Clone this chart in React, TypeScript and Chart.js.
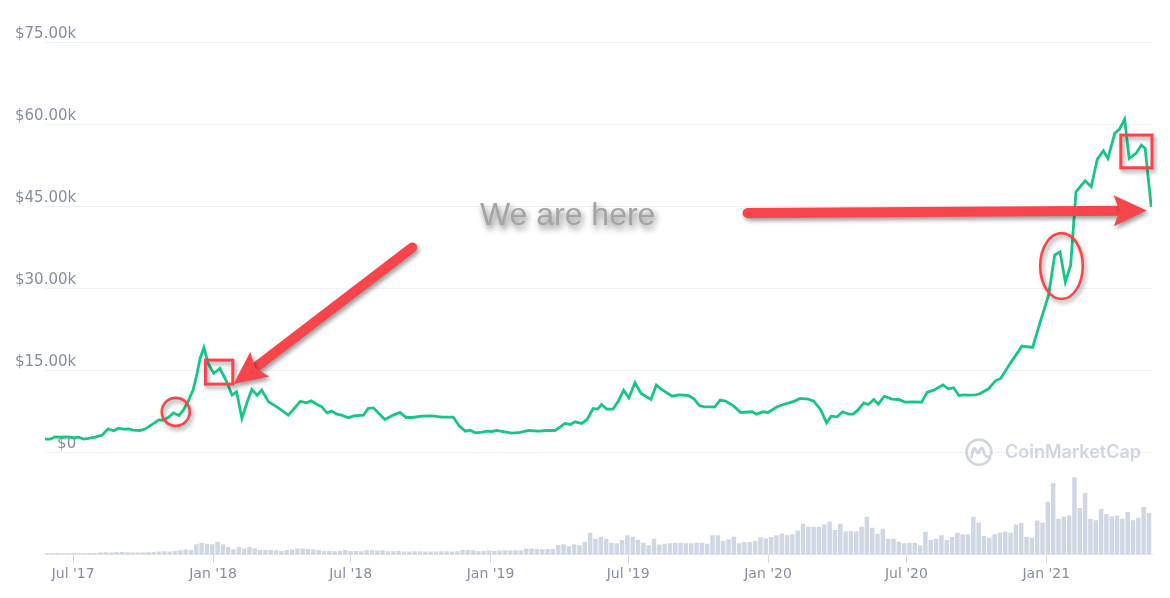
import React, { useEffect, useRef } from "react";
import { Chart, registerables } from "chart.js";

Chart.register(...registerables);

// ---------- data ----------
const priceDates = [
  "2017-05-25","2017-06-01","2017-06-07","2017-06-14","2017-06-25","2017-07-01","2017-07-08","2017-07-15","2017-07-21","2017-07-30",
  "2017-08-08","2017-08-16","2017-08-23","2017-08-30","2017-09-05","2017-09-12","2017-09-18","2017-09-27","2017-10-04","2017-10-10",
  "2017-10-17","2017-10-21","2017-10-28","2017-11-03","2017-11-10","2017-11-17","2017-11-23","2017-11-30","2017-12-06","2017-12-11",
  "2017-12-15","2017-12-20","2017-12-26","2018-01-02","2018-01-10","2018-01-19","2018-01-26","2018-02-01","2018-02-08","2018-02-15",
  "2018-02-21","2018-02-28","2018-03-06","2018-03-15","2018-03-26","2018-04-10","2018-04-26","2018-05-04","2018-05-10","2018-05-18",
  "2018-05-24","2018-05-31","2018-06-06","2018-06-13","2018-06-19","2018-06-28","2018-07-05","2018-07-18","2018-07-24","2018-07-31",
  "2018-08-15","2018-08-26","2018-09-04","2018-09-12","2018-09-20","2018-10-03","2018-10-16","2018-10-29","2018-11-13","2018-11-21",
  "2018-11-29","2018-12-05","2018-12-12","2018-12-21","2018-12-27","2019-01-03","2019-01-09","2019-01-16","2019-01-29","2019-02-09",
  "2019-02-20","2019-03-05","2019-03-16","2019-03-27","2019-04-09","2019-04-16","2019-04-22","2019-05-01","2019-05-08","2019-05-16",
  "2019-05-22","2019-05-27","2019-06-03","2019-06-11","2019-06-18","2019-06-25","2019-07-02","2019-07-10","2019-07-18","2019-07-31",
  "2019-08-07","2019-08-14","2019-08-28","2019-09-05","2019-09-18","2019-09-25","2019-10-03","2019-10-10","2019-10-23","2019-10-30",
  "2019-11-06","2019-11-17","2019-11-26","2019-12-11","2019-12-17","2019-12-25","2020-01-01","2020-01-13","2020-01-21","2020-02-04",
  "2020-02-12","2020-02-23","2020-03-01","2020-03-10","2020-03-18","2020-03-24","2020-04-01","2020-04-08","2020-04-16","2020-04-22",
  "2020-04-28","2020-05-06","2020-05-12","2020-05-19","2020-05-25","2020-06-02","2020-06-12","2020-06-21","2020-06-29","2020-07-10",
  "2020-07-21","2020-07-28","2020-08-06","2020-08-18","2020-08-25","2020-09-01","2020-09-08","2020-09-14","2020-09-21","2020-09-30",
  "2020-10-06","2020-10-17","2020-10-26","2020-11-02","2020-11-15","2020-11-30","2020-12-14","2020-12-24","2021-01-04","2021-01-12",
  "2021-01-19","2021-01-26","2021-02-02","2021-02-09","2021-02-21","2021-03-01","2021-03-09","2021-03-17","2021-03-23","2021-04-01",
  "2021-04-07","2021-04-14","2021-04-20","2021-04-29","2021-05-06","2021-05-11","2021-05-19",
];

const prices = [
  2380,2380,2800,2750,2800,2620,2750,2380,2500,2740,
  3110,4270,3900,4390,4210,4270,4020,3960,4270,4810,
  5430,5850,5850,6340,7190,6710,7680,9510,11470,14390,
  17130,19150,16100,14390,15300,12860,10420,11030,6160,9200,
  11470,10420,11340,9200,8290,6770,9300,9020,9380,8720,
  8290,7190,7500,6950,6770,6280,6640,6770,7990,8100,
  5980,6770,7260,6340,6340,6580,6640,6400,6400,4760,
  3840,4020,3530,3660,3840,3780,3960,3780,3475,3600,
  3960,3840,3960,3960,5250,5070,5550,5250,5980,7990,
  7870,8720,7870,7870,9300,11300,9930,12680,10730,9630,
  12250,11470,10240,10480,10360,9820,8470,8290,8290,9510,
  9330,8410,7260,7380,6950,7380,7260,8290,8720,9270,
  9820,9700,9330,7810,5360,6580,6460,7380,6950,6950,
  7680,9020,8720,9630,8780,10240,9700,9630,9150,9200,
  9150,10910,11340,12310,11580,11770,10360,10480,10420,10480,
  10730,11580,13040,13480,16330,19390,19150,23830,28720,36030,
  36640,31150,34200,47610,49620,48520,53530,55110,53710,58290,
  59020,60850,53710,54630,56150,55550,44870,
];

// weekly volume bars (billions USD), first week starting volumeStart
const volumeStart = "2017-05-28";
const volumes = [
  0.9,0.9,1.2,0.9,0.9,1.2,0.9,0.9,1.2,1.2,
  1.5,1.8,1.5,2.1,2.1,1.8,1.5,1.5,1.5,1.8,
  2.1,2.4,2.7,2.4,3.0,3.6,4.2,3.9,
  9.0,10.5,9.6,9.0,11.4,9.0,6.6,4.5,6.6,5.1,6.6,5.4,
  3.9,3.9,3.9,3.6,3.0,3.9,4.2,5.1,5.1,4.8,
  4.2,3.9,3.0,3.0,2.7,3.0,3.9,3.0,3.0,2.7,
  3.6,3.6,3.3,3.6,2.7,2.7,3.0,2.4,2.4,2.7,
  2.7,2.4,2.4,2.4,2.7,2.7,2.4,2.7,3.9,3.9,
  3.6,3.0,3.0,3.3,3.0,3.3,3.6,3.3,3.6,3.6,
  5.1,5.1,4.8,4.5,4.8,4.8,8.4,9.0,7.2,9.0,
  8.1,11.1,19.5,14.1,15.9,14.1,10.5,9.9,12.9,17.1,
  15.9,12.9,10.5,8.1,14.1,8.7,9.6,9.9,10.5,10.5,
  9.9,9.9,10.5,10.5,9.6,17.1,17.1,12.0,13.5,15.9,
  9.9,11.1,11.1,12.0,15.3,14.4,15.6,17.1,18.9,17.1,
  18.0,21.6,27.6,24.9,24.9,24.9,27.0,29.4,21.9,27.6,
  20.7,21.0,20.7,24.9,33.9,24.0,18.6,23.1,14.1,14.1,
  11.4,9.9,10.5,10.5,8.1,20.4,12.9,14.1,17.1,12.9,
  15.6,19.5,18.0,18.0,33.9,28.5,16.5,15.0,18.0,19.5,
  20.4,19.5,27.0,28.5,15.9,15.0,30.6,28.5,47.7,64.5,
  32.1,33.9,35.1,69.9,42.0,55.5,32.1,30.9,41.1,36.6,
  34.5,35.1,32.1,38.4,30.9,33.0,42.9,37.5,
];

const xRange = ["2017-05-25", "2021-05-20"];
const xTickDates = ["2017-07-01","2018-01-01","2018-07-01","2019-01-01","2019-07-01","2020-01-01","2020-07-01","2021-01-01"];
const xTickLabels = ["Jul '17","Jan '18","Jul '18","Jan '19","Jul '19","Jan '20","Jul '20","Jan '21"];
const priceTicks = [0, 15000, 30000, 45000, 60000, 75000];

// annotations (data coordinates)
const circleNotes = [{ date: "2017-11-13", price: 7370, radius: 14 }];
const rectNotes = [
  { from: "2017-12-22", to: "2018-01-27", hi: 16830, lo: 12440 },
  { from: "2021-04-09", to: "2021-05-20", hi: 57980, lo: 52000 },
];
const ellipseNotes = [{ from: "2020-12-24", to: "2021-02-18", hi: 40050, lo: 28000 }];
const arrowNotes = [
  { fromDate: "2018-09-20", fromPrice: 37440, toDate: "2018-01-28", toPrice: 12440 },
  { fromDate: "2019-12-05", fromPrice: 43750, toDate: "2021-05-13", toPrice: 44170 },
];
const textNote = { text: "We are here", date: "2018-12-18", price: 41520 };

// ---------- helpers ----------
const dayNum = (s: string) => {
  const [y, m, d] = s.split("-").map(Number);
  return Date.UTC(y, m - 1, d) / 86400000;
};

const RED = "#f8454b";
const AXIS_TEXT = "#868da3";

const annotatePlugin = {
  id: "annotate",
  afterDraw(chart: any) {
    const { ctx, chartArea } = chart;
    const xs = chart.scales.x;
    const ys = chart.scales.y;
    const px = (d: string) => xs.getPixelForValue(dayNum(d));
    const py = (v: number) => ys.getPixelForValue(v);

    // watermark
    ctx.save();
    const lcx = chartArea.right - 173;
    const lcy = py(0);
    ctx.strokeStyle = "#cfd5e1";
    ctx.lineWidth = 2.6;
    ctx.lineCap = "round";
    ctx.lineJoin = "round";
    ctx.beginPath();
    ctx.arc(lcx, lcy, 12.5, 0.15 * Math.PI, 2.05 * Math.PI);
    ctx.stroke();
    ctx.beginPath();
    ctx.moveTo(lcx - 7.5, lcy + 5);
    ctx.quadraticCurveTo(lcx - 5.5, lcy - 8, lcx - 3, lcy - 2);
    ctx.quadraticCurveTo(lcx - 1, lcy + 4, lcx + 1, lcy - 2);
    ctx.quadraticCurveTo(lcx + 3.5, lcy - 8, lcx + 5, lcy + 1);
    ctx.quadraticCurveTo(lcx + 6.5, lcy + 6, lcx + 11, lcy + 4);
    ctx.stroke();
    ctx.fillStyle = "#cfd5e1";
    ctx.font = '600 18px Inter, "Noto Sans", sans-serif';
    ctx.textBaseline = "middle";
    ctx.textAlign = "left";
    ctx.fillText("CoinMarketCap", chartArea.right - 147, lcy);
    ctx.restore();

    const shadow = () => {
      ctx.shadowColor = "rgba(0,0,0,0.38)";
      ctx.shadowBlur = 4;
      ctx.shadowOffsetX = 2;
      ctx.shadowOffsetY = 3;
    };

    // circles
    circleNotes.forEach((c) => {
      ctx.save();
      shadow();
      ctx.strokeStyle = RED;
      ctx.lineWidth = 2.6;
      ctx.beginPath();
      ctx.arc(px(c.date), py(c.price), c.radius, 0, Math.PI * 2);
      ctx.stroke();
      ctx.restore();
    });

    // ellipses
    ellipseNotes.forEach((e) => {
      const x0 = px(e.from), x1 = px(e.to), y0 = py(e.hi), y1 = py(e.lo);
      ctx.save();
      shadow();
      ctx.strokeStyle = RED;
      ctx.lineWidth = 2.6;
      ctx.beginPath();
      ctx.ellipse((x0 + x1) / 2, (y0 + y1) / 2, (x1 - x0) / 2, (y1 - y0) / 2, 0, 0, Math.PI * 2);
      ctx.stroke();
      ctx.restore();
    });

    // rectangles
    rectNotes.forEach((r) => {
      const x0 = px(r.from), x1 = px(r.to), y0 = py(r.hi), y1 = py(r.lo);
      ctx.save();
      shadow();
      ctx.strokeStyle = RED;
      ctx.lineWidth = 3;
      ctx.strokeRect(x0, y0, x1 - x0, y1 - y0);
      ctx.restore();
    });

    // arrows
    arrowNotes.forEach((a) => {
      const x0 = px(a.fromDate), y0 = py(a.fromPrice);
      const x1 = px(a.toDate), y1 = py(a.toPrice);
      const dx = x1 - x0, dy = y1 - y0;
      const len = Math.hypot(dx, dy);
      const ux = dx / len, uy = dy / len;
      const headLen = 31, headHalf = 15.5;
      const bx = x1 - ux * headLen, by = y1 - uy * headLen;
      ctx.save();
      shadow();
      ctx.strokeStyle = RED;
      ctx.fillStyle = RED;
      ctx.lineWidth = 10;
      ctx.lineCap = "round";
      ctx.beginPath();
      ctx.moveTo(x0, y0);
      ctx.lineTo(bx + ux * 6, by + uy * 6);
      ctx.stroke();
      ctx.beginPath();
      ctx.moveTo(x1, y1);
      ctx.lineTo(bx - uy * headHalf - ux * 2, by + ux * headHalf - uy * 2);
      ctx.lineTo(bx + ux * 4, by + uy * 4);
      ctx.lineTo(bx + uy * headHalf - ux * 2, by - ux * headHalf - uy * 2);
      ctx.closePath();
      ctx.fill();
      ctx.restore();
    });

    // text
    ctx.save();
    ctx.font = '32px "Liberation Sans", Arial, sans-serif';
    ctx.textAlign = "left";
    ctx.textBaseline = "alphabetic";
    ctx.fillStyle = "#a4a4a4";
    ctx.shadowColor = "rgba(0,0,0,0.55)";
    ctx.shadowBlur = 6;
    ctx.shadowOffsetX = 2;
    ctx.shadowOffsetY = 4;
    ctx.fillText(textNote.text, px(textNote.date), py(textNote.price));
    ctx.restore();
  },
};

export default function App() {
  const canvasRef = useRef<HTMLCanvasElement | null>(null);

  useEffect(() => {
    if (!canvasRef.current) return;
    const start = dayNum(volumeStart);
    const lineData = priceDates.map((d, i) => ({ x: dayNum(d), y: prices[i] }));
    const barData = volumes.map((v, i) => ({ x: start + 7 * i, y: v }));

    const chart = new Chart(canvasRef.current, {
      type: "line",
      data: {
        datasets: [
          {
            type: "line",
            label: "Price",
            data: lineData,
            yAxisID: "y",
            borderColor: "#16c784",
            borderWidth: 2.8,
            pointRadius: 0,
            tension: 0,
            fill: false,
            order: 1,
          } as any,
          {
            type: "bar",
            label: "Volume",
            data: barData,
            yAxisID: "y2",
            backgroundColor: "#cfd6e4",
            borderWidth: 0,
            barPercentage: 0.84,
            categoryPercentage: 1,
            order: 2,
          } as any,
        ],
      },
      options: {
        animation: false,
        responsive: true,
        maintainAspectRatio: false,
        layout: { padding: { left: 45, right: 18, top: 42, bottom: 12 } },
        plugins: { legend: { display: false }, tooltip: { enabled: false } },
        scales: {
          x: {
            type: "linear",
            min: dayNum(xRange[0]),
            max: dayNum(xRange[1]),
            offset: false,
            afterBuildTicks: (scale: any) => {
              scale.ticks = xTickDates.map((d) => ({ value: dayNum(d) }));
            },
            ticks: {
              autoSkip: false,
              maxRotation: 0,
              padding: 3,
              color: AXIS_TEXT,
              font: { family: '"DejaVu Sans", sans-serif', size: 14 },
              callback: (v: any) => {
                const i = xTickDates.findIndex((d) => dayNum(d) === v);
                return i >= 0 ? xTickLabels[i] : "";
              },
            },
            grid: { offset: false, drawOnChartArea: false, drawTicks: true, tickLength: 9, color: "#d3d9e5" },
            border: { display: true, color: "#dde2ea", width: 1 },
          },
          y: {
            type: "linear",
            position: "left",
            min: -18660,
            max: 75000,
            afterBuildTicks: (scale: any) => {
              scale.ticks = priceTicks.map((v) => ({ value: v }));
            },
            ticks: {
              mirror: true,
              crossAlign: "far",
              padding: -10,
              labelOffset: -8,
              color: AXIS_TEXT,
              font: { family: '"DejaVu Sans", sans-serif', size: 15 },
              callback: (v: any) => (v === 0 ? "$0" : "$" + (v / 1000).toFixed(2) + "k"),
            },
            grid: { color: "#eef1f5", lineWidth: 1, drawTicks: false },
            border: { display: false },
          },
          y2: {
            type: "linear",
            position: "right",
            display: false,
            min: 0,
            max: 465,
            grid: { display: false },
          },
        },
      } as any,
      plugins: [annotatePlugin],
    });
    return () => chart.destroy();
  }, []);

  return (
    <div style={{ position: "fixed", left: 0, top: 0, width: 1170, height: 598, background: "#fff" }}>
      <canvas ref={canvasRef} />
    </div>
  );
}
